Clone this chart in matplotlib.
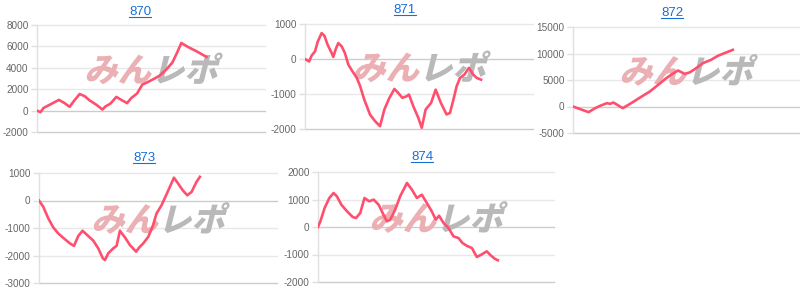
import matplotlib
matplotlib.use("Agg")
import matplotlib.pyplot as plt
from matplotlib.lines import Line2D
from matplotlib import patheffects
from matplotlib.transforms import Affine2D
import numpy as np

plt.rcParams['font.family'] = ['Liberation Sans', 'DejaVu Sans']

titles = ["870", "871", "872", "873", "874"]

# x: progress (% of axis span), y: balance
x870 = [0, 1.5, 2.9, 5.6, 9.6, 12.1, 14.3, 16.1, 18.7, 20.9, 23.1, 26.0, 28.7, 30.1, 32.2,
        34.8, 37.0, 39.5, 41.4, 43.9, 46.2, 48.7, 51.6, 53.8, 56.7, 59.4, 61.4, 63.3, 66.2, 69.9, 74.3]
y870 = [0, -150, 250, 550, 1000, 700, 350, 870, 1550, 1350, 950, 550, 100, 400, 650,
        1280, 1000, 700, 1180, 1600, 2430, 2680, 3000, 3270, 3830, 4500, 5400, 6320, 5950, 5550, 5020]

x871 = [0, 1.8, 2.9, 4.4, 5.6, 7.3, 8.5, 9.9, 11.7, 12.4, 13.5, 14.6, 16.1, 17.5, 19.0, 20.8,
        22.7, 24.1, 26.0, 28.5, 30.7, 32.9, 34.8, 36.8, 39.2, 40.9, 42.7, 44.6, 45.6, 47.5, 49.7,
        51.2, 52.9, 55.3, 57.3, 59.6, 62.1, 63.6, 65.1, 66.5, 68.0, 69.9, 71.9, 73.8, 75.3, 77.2]
y871 = [0, -70, 95, 220, 500, 740, 665, 410, 170, 60, 285, 455, 360, 170, -160, -350,
        -540, -760, -1160, -1585, -1775, -1920, -1445, -1140, -855, -970, -1110, -1065, -1015, -1350, -1680,
        -1965, -1445, -1255, -875, -1255, -1585, -1540, -1160, -780, -540, -445, -255, -445, -540, -590]

x872 = [0, 3.2, 6.9, 9.8, 12.0, 15.0, 16.4, 17.9, 19.6, 22.0, 24.5, 27.4, 30.4, 34.0, 37.7,
        41.3, 44.0, 46.5, 49.4, 51.6, 54.5, 57.5, 61.1, 64.1, 67.0, 70.7]
y872 = [0, -500, -1070, -310, 130, 630, 500, 750, 310, -310, 310, 1070, 1890, 2830, 4090,
        5350, 6160, 6790, 6160, 6420, 7230, 8180, 8810, 9560, 10060, 10690]

x873 = [0, 1.8, 3.9, 6.0, 8.1, 10.9, 13.0, 14.7, 16.5, 18.3, 20.3, 22.8, 24.9, 26.8, 27.7,
        29.1, 31.2, 32.6, 34.0, 36.1, 38.2, 40.8, 42.2, 43.8, 45.9, 47.8, 49.4, 51.5, 53.4,
        55.0, 56.7, 58.5, 60.4, 62.3, 64.1, 66.2, 67.6]
y873 = [0, -230, -650, -980, -1200, -1410, -1560, -1650, -1290, -1100, -1260, -1460, -1740, -2100, -2165,
        -1920, -1740, -1650, -1100, -1340, -1620, -1860, -1700, -1560, -1320, -930, -470, -170, 190,
        500, 830, 610, 370, 190, 310, 680, 860]

x874 = [0, 1.0, 2.8, 4.8, 6.6, 8.0, 9.9, 12.3, 14.7, 16.1, 17.9, 19.7, 21.7, 23.6, 25.7, 27.4,
        29.2, 30.6, 32.7, 34.8, 37.7, 39.8, 41.9, 44.0, 46.1, 48.2, 49.9, 51.3, 53.2, 55.3, 57.4,
        59.5, 61.2, 63.0, 65.2, 67.3, 69.1, 71.5, 73.3, 75.0, 76.2]
y874 = [0, 205, 690, 1055, 1235, 1115, 810, 570, 365, 325, 510, 1055, 935, 995, 810, 510,
        205, 265, 630, 1115, 1600, 1355, 1055, 1175, 875, 570, 265, 410, 145, -35, -340,
        -400, -580, -680, -765, -1090, -1010, -885, -1040, -1160, -1210]

xs = [x870, x871, x872, x873, x874]
ys = [y870, y871, y872, y873, y874]
yticks = [
    [-2000, 0, 2000, 4000, 6000, 8000],
    [-2000, -1000, 0, 1000],
    [-5000, 0, 5000, 10000, 15000],
    [-3000, -2000, -1000, 0, 1000],
    [-2000, -1000, 0, 1000, 2000],
]

W, H = 800, 295
# axes boxes in pixels: left, top, right, bottom
boxes = [
    (37, 25, 265, 132),
    (305, 24, 533, 129),
    (573, 27, 799, 133),
    (39, 173, 277, 283),
    (318, 172, 554, 282),
]
title_pos = [(140, 12), (405, 10), (672, 13), (144, 158), (422, 157)]


class Skew(patheffects.AbstractPathEffect):
    """Slant glyph outlines (oblique look) in their local coordinates."""
    def __init__(self, deg):
        super().__init__()
        self.deg = deg

    def draw_path(self, renderer, gc, tpath, affine, rgbFace=None):
        renderer.draw_path(gc, tpath, Affine2D().skew_deg(self.deg, 0) + affine, rgbFace)


fig = plt.figure(figsize=(W / 100, H / 100), dpi=100)
line_color = '#ff4f6e'
title_color = '#1a6fd4'
title_texts = []
wm_family = ['Noto Sans CJK JP', 'DejaVu Sans']

for i in range(5):
    l, t, r, b = boxes[i]
    ax = fig.add_axes([l / W, 1 - b / H, (r - l) / W, (b - t) / H])
    ax.set_xlim(0, 100)
    tk = yticks[i]
    ax.set_ylim(tk[0], tk[-1])
    ax.set_yticks(tk)
    ax.set_yticklabels([str(v) for v in tk])
    ax.set_xticks([])
    for v in tk:
        c = '#cccccc' if v == 0 or v == tk[0] else '#e8e8e8'
        ax.axhline(v, color=c, lw=1.0, zorder=1, clip_on=False)
    for s in ['top', 'right', 'bottom']:
        ax.spines[s].set_visible(False)
    ax.spines['left'].set_color('#e0e0e0')
    ax.spines['left'].set_linewidth(1.0)
    ax.tick_params(axis='y', length=4, width=1.0, color='#e0e0e0', pad=2,
                   labelsize=7.2, labelcolor='#666666')
    # watermark
    ax.text(0.5, 0.47, 'みん', transform=ax.transAxes, ha='right', va='baseline',
            fontsize=24, fontweight='black', color='#eab0b3',
            family=wm_family, zorder=2, path_effects=[Skew(14)])
    ax.text(0.5, 0.47, 'レポ', transform=ax.transAxes, ha='left', va='baseline',
            fontsize=24, fontweight='black', color='#b9b9b9',
            family=wm_family, zorder=2, path_effects=[Skew(14)])
    ax.plot(xs[i], ys[i], color=line_color, lw=1.9, zorder=3, solid_joinstyle='round')
    tx, ty = title_pos[i]
    tt = fig.text(tx / W, 1 - ty / H, titles[i], ha='center', va='center',
                  fontsize=9.5, color=title_color)
    title_texts.append(tt)

fig.canvas.draw()
for tt in title_texts:
    bb = tt.get_window_extent()
    yline = (bb.y0 + 1.0) / H
    fig.add_artist(Line2D([bb.x0 / W, bb.x1 / W], [yline, yline],
                          transform=fig.transFigure, color=title_color, lw=0.8))

fig.savefig('out.png', dpi=100)
